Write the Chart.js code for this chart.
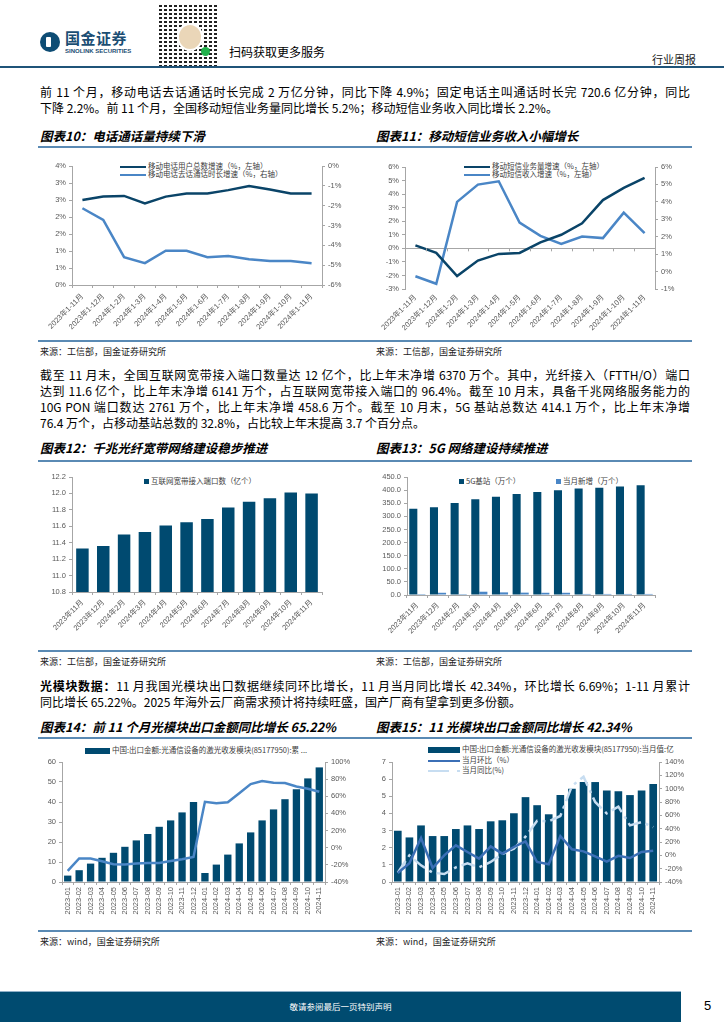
<!DOCTYPE html>
<html>
<head>
<meta charset="utf-8">
<script src="https://cdn.jsdelivr.net/npm/chart.js@4.4.1/dist/chart.umd.min.js"></script>
<style>
  body { margin: 0; background: #fff; }
  #page { position: relative; width: 724px; height: 1024px; overflow: hidden; font-family: "Noto Sans CJK SC", sans-serif; color: #000; }
  .para { position: absolute; left: 40px; width: 650px; font-size: 12px; line-height: 16px; }
  .para div { white-space: nowrap; height: 16px; }
  .para .j { text-align: justify; text-align-last: justify; }
  .ttl { position: absolute; font-size: 12.5px; line-height: 16px; font-weight: bold; font-style: italic; white-space: nowrap; }
  .rule { position: absolute; left: 38px; width: 654px; height: 2px; background: #5A8AB4; }
  .src { position: absolute; font-size: 9px; line-height: 12px; color: #222; white-space: nowrap; }
  .lg { position: absolute; font-size: 7.5px; line-height: 9px; color: #404040; white-space: nowrap; }
  .lg i { display: inline-block; vertical-align: middle; margin-right: 2px; }
</style>
</head>
<body>
<div id="page">
  <!-- header -->
  <div style="position:absolute;left:40px;top:32px;width:20px;height:20px;border-radius:50%;background:#0D4C74;"></div>
  <div style="position:absolute;left:46px;top:37px;width:5px;height:10px;background:#fff;border-radius:1px;"></div>
  <div style="position:absolute;left:65px;top:29px;font-size:15px;line-height:18px;font-weight:bold;color:#1B4E73;letter-spacing:0.5px;">国金证券</div>
  <div style="position:absolute;left:65px;top:47px;font-size:6px;line-height:8px;font-weight:bold;color:#1B4E73;font-family:'Liberation Sans',sans-serif;">SINOLINK SECURITIES</div>
  <div style="position:absolute;left:158px;top:4px;width:60px;height:62px;background-image:radial-gradient(#222 38%, transparent 42%);background-size:5px 4px;"></div>
  <div style="position:absolute;left:177px;top:23px;width:22px;height:24px;border-radius:50%;background:#EAD6B8;border:2px solid #fff;"></div>
  <div style="position:absolute;left:201px;top:47px;width:9px;height:9px;border-radius:50%;background:#22B14C;"></div>
  <div style="position:absolute;left:229px;top:44px;font-size:12px;line-height:16px;">扫码获取更多服务</div>
  <div style="position:absolute;left:652px;top:52px;font-size:11px;line-height:14px;color:#222;">行业周报</div>
  <div style="position:absolute;left:0;top:66px;width:724px;height:2px;background:#1F5479;"></div>

  <!-- paragraph 1 -->
  <div class="para" style="top:84px">
    <div class="j">前 11 个月，移动电话去话通话时长完成 2 万亿分钟，同比下降 4.9%；固定电话主叫通话时长完 720.6 亿分钟，同比</div>
    <div>下降 2.2%。前 11 个月，全国移动短信业务量同比增长 5.2%；移动短信业务收入同比增长 2.2%。</div>
  </div>

  <div class="ttl" style="left:40px;top:128px">图表10：电话通话量持续下滑</div>
  <div class="ttl" style="left:376px;top:128px">图表11：移动短信业务收入小幅增长</div>
  <div class="rule" style="top:146px"></div>

  <div class="lg" style="left:120px;top:161px"><i style="width:26px;height:2.5px;background:#0A4468"></i>移动电话用户总数增速（%，左轴）</div>
  <div class="lg" style="left:120px;top:169px"><i style="width:26px;height:2.5px;background:#4A86C6"></i>移动电话去话通话时长增速（%，右轴）</div>
  <div class="lg" style="left:464px;top:161px"><i style="width:26px;height:2.5px;background:#0A4468"></i>移动短信业务量增速（%，左轴）</div>
  <div class="lg" style="left:464px;top:169px"><i style="width:26px;height:2.5px;background:#4A86C6"></i>移动短信收入增速（%，左轴）</div>

  <div class="rule" style="top:340px"></div>
  <div class="src" style="left:40px;top:346px">来源：工信部，国金证券研究所</div>
  <div class="src" style="left:376px;top:346px">来源：工信部，国金证券研究所</div>

  <!-- paragraph 2 -->
  <div class="para" style="top:367px">
    <div class="j">截至 11 月末，全国互联网宽带接入端口数量达 12 亿个，比上年末净增 6370 万个。其中，光纤接入（FTTH/O）端口</div>
    <div class="j">达到 11.6 亿个，比上年末净增 6141 万个，占互联网宽带接入端口的 96.4%。截至 10 月末，具备千兆网络服务能力的</div>
    <div class="j">10G PON 端口数达 2761 万个，比上年末净增 458.6 万个。截至 10 月末，5G 基站总数达 414.1 万个，比上年末净增</div>
    <div>76.4 万个，占移动基站总数的 32.8%，占比较上年末提高 3.7 个百分点。</div>
  </div>

  <div class="ttl" style="left:40px;top:440px">图表12：千兆光纤宽带网络建设稳步推进</div>
  <div class="ttl" style="left:376px;top:440px">图表13：5G 网络建设持续推进</div>
  <div class="rule" style="top:460px"></div>

  <div class="lg" style="left:144px;top:476px"><i style="width:5px;height:5px;background:#004A70"></i>互联网宽带接入端口数（亿个）</div>
  <div class="lg" style="left:459px;top:476px"><i style="width:5px;height:5px;background:#004A70"></i>5G基站（万个）</div>
  <div class="lg" style="left:556px;top:476px"><i style="width:5px;height:5px;background:#4A86C6"></i>当月新增（万个）</div>

  <div class="rule" style="top:650px"></div>
  <div class="src" style="left:40px;top:656px">来源：工信部，国金证券研究所</div>
  <div class="src" style="left:376px;top:656px">来源：工信部，国金证券研究所</div>

  <!-- paragraph 3 -->
  <div class="para" style="top:678px">
    <div class="j"><b>光模块数据：</b>11 月我国光模块出口数据继续同环比增长，11 月当月同比增长 42.34%，环比增长 6.69%；1-11 月累计</div>
    <div>同比增长 65.22%。2025 年海外云厂商需求预计将持续旺盛，国产厂商有望拿到更多份额。</div>
  </div>

  <div class="ttl" style="left:40px;top:719px">图表14：前 11 个月光模块出口金额同比增长 65.22%</div>
  <div class="ttl" style="left:376px;top:719px">图表15：11 光模块出口金额同比增长 42.34%</div>
  <div class="rule" style="top:737px"></div>

  <div class="lg" style="left:85px;top:745px"><i style="width:25px;height:6px;background:#004A70"></i>中国:出口金额:光通信设备的激光收发模块(85177950):累 ...</div>
  <div class="lg" style="left:428px;top:744px"><i style="width:32px;height:6px;background:#004A70"></i>中国:出口金额:光通信设备的激光收发模块(85177950):当月值:亿</div>
  <div class="lg" style="left:428px;top:755px"><i style="width:32px;height:2.5px;background:#3B6FB6"></i>当月环比（%）</div>
  <div class="lg" style="left:428px;top:765px"><i style="width:21px;height:2.5px;background:#C7DDF1;margin-right:8px"></i><i style="width:3px;height:2.5px;background:#C7DDF1"></i>当月同比(%)</div>

  <div class="rule" style="top:930px"></div>
  <div class="src" style="left:40px;top:936px">来源：wind，国金证券研究所</div>
  <div class="src" style="left:376px;top:936px">来源：wind，国金证券研究所</div>

  <!-- footer -->
  <div style="position:absolute;left:0;top:991px;width:681px;height:30px;background:#004B70;border-top:1px solid #8FB0C8;"></div>
  <div style="position:absolute;left:0;top:1000px;width:681px;text-align:center;font-size:8.5px;line-height:12px;color:#fff;">敬请参阅最后一页特别声明</div>
  <div style="position:absolute;left:704px;top:998px;font-size:13px;line-height:16px;font-family:'Liberation Sans',sans-serif;">5</div>
</div>

<script>
// ---- data ----
const TEL_CATS = ['2023年1-11月', '2023年1-12月', '2024年1-2月', '2024年1-3月', '2024年1-4月', '2024年1-5月',
  '2024年1-6月', '2024年1-7月', '2024年1-8月', '2024年1-9月', '2024年1-10月', '2024年1-11月'];
const TEL_USERS = [2.5, 2.6, 2.62, 2.4, 2.6, 2.69, 2.69, 2.79, 2.91, 2.81, 2.69, 2.69];
const TEL_CALLS = [-2.13, -2.72, -4.6, -4.9, -4.27, -4.27, -4.6, -4.54, -4.7, -4.79, -4.79, -4.9];
const TEL_LEFT_TICKS = ['0%', '1%', '1%', '2%', '2%', '3%', '3%', '4%'];
const TEL_RIGHT_TICKS = ['-6%', '-5%', '-4%', '-3%', '-2%', '-1%', '0%'];

const SMS_VOLUME = [0.22, -0.34, -2.05, -0.9, -0.41, -0.34, 0.44, 1.0, 1.85, 3.56, 4.46, 5.2];
const SMS_REVENUE = [-0.27, -0.7, 4.0, 4.99, 5.18, 2.81, 2.05, 1.59, 2.01, 1.92, 3.38, 2.2];
const SMS_LEFT_TICKS = ['-3%', '-2%', '-1%', '0%', '1%', '2%', '3%', '4%', '5%', '6%'];
const SMS_RIGHT_TICKS = ['-1%', '0%', '1%', '2%', '3%', '4%', '5%', '6%'];

const MONTH_CATS = ['2023年11月', '2023年12月', '2024年2月', '2024年3月', '2024年4月', '2024年5月',
  '2024年6月', '2024年7月', '2024年8月', '2024年9月', '2024年10月', '2024年11月'];
const PORTS = [11.33, 11.36, 11.5, 11.53, 11.61, 11.65, 11.69, 11.83, 11.9, 11.94, 12.01, 12.0];
const PORT_TICKS = ['10.8', '11.0', '11.2', '11.4', '11.6', '11.8', '12.0', '12.2'];

const BS_TOTAL = [329, 335, 351, 365, 375, 385, 393, 399, 406, 409, 414.1, 419];
const BS_NEW = [3.5, 8.5, 3.5, 12.5, 10, 9, 8.5, 8.5, 4, 4, 4, 4];
const BS_TICKS = ['0.0', '50.0', '100.0', '150.0', '200.0', '250.0', '300.0', '350.0', '400.0', '450.0'];

const MOD_CATS = ['2023-01', '2023-02', '2023-03', '2023-04', '2023-05', '2023-06', '2023-07', '2023-08',
  '2023-09', '2023-10', '2023-11', '2023-12', '2024-01', '2024-02', '2024-03', '2024-04', '2024-05',
  '2024-06', '2024-07', '2024-08', '2024-09', '2024-10', '2024-11'];
const MOD_CUM = [3.2, 5.9, 9.2, 12.1, 14.6, 17.6, 20.8, 24.0, 27.6, 30.8, 34.8, 40.0,
  4.5, 8.7, 13.7, 19.3, 24.8, 30.8, 36.3, 41.4, 46.4, 51.8, 57.3];
const MOD_CUM_YOY = [-27, -12.6, -12.6, -15.8, -19.3, -19.7, -18.5, -17.7, -17.7, -15.4, -13.4, -10.7,
  53.5, 51.9, 53, 63.6, 74.2, 77.7, 75.8, 75.4, 71.5, 68.7, 65.2];
const CUM_LEFT_TICKS = ['0', '10', '20', '30', '40', '50', '60'];
const CUM_RIGHT_TICKS = ['-40%', '-20%', '0%', '20%', '40%', '60%', '80%', '100%'];

const MOD_MONTH = [2.99, 2.6, 3.3, 2.68, 2.68, 3.09, 3.3, 3.09, 3.54, 3.6, 4.01, 4.95,
  4.48, 3.95, 5.07, 5.44, 5.83, 5.83, 5.34, 5.3, 5.07, 5.34, 5.71];
const MOD_MOM = [-26.4, -12, 26, -19, 0, 15, 5, -5, 13.5, 2.5, 12.5, 21,
  -10, -13.5, 29, 9, 6, -1.5, -9.5, -0.8, -4, 5, 6.7];
const MOD_YOY = [-26, 0, -15, -26, -28, -18, -12, -18, -10, 2, 10, 28,
  52, 51, 59, 104, 118, 80, 63, 73, 45, 50, 42.3];
const MONTH_LEFT_TICKS = ['0', '1', '2', '3', '4', '5', '6', '7'];
const MONTH_RIGHT_TICKS = ['-40%', '-20%', '0%', '20%', '40%', '60%', '80%', '100%', '120%', '140%'];

// ---- styles ----
const GRAY = '#A6A6A6';
const NAVY = '#004A70';
const DARK_LINE = '#0A4468';
const LIGHT_LINE = '#4A86C6';

Chart.defaults.font.family = '"Liberation Sans", "Noto Sans CJK SC", sans-serif';
Chart.defaults.font.size = 7.5;
Chart.defaults.color = '#595959';
Chart.defaults.animation = false;
Chart.defaults.responsive = false;
Chart.defaults.plugins.legend.display = false;
Chart.defaults.plugins.tooltip.enabled = false;
Chart.defaults.elements.point.radius = 0;
Chart.defaults.elements.line.tension = 0;

function canvasAt(left, top, w, h) {
  const c = document.createElement('canvas');
  c.width = w;
  c.height = h;
  c.style.cssText = `position:absolute;left:${left}px;top:${top}px;width:${w}px;height:${h}px;`;
  document.getElementById('page').appendChild(c);
  return c;
}

function yAxis(position, min, max, step, labels, width, showZero) {
  return {
    position, min, max,
    afterFit: s => { s.width = width; },
    ticks: { stepSize: step, padding: 3, callback: (v, i) => labels[i] },
    grid: {
      drawOnChartArea: !!showZero, drawTicks: true, tickLength: 3, tickColor: GRAY,
      color: c => (showZero && c.tick && c.tick.value === 0) ? GRAY : 'rgba(0,0,0,0)'
    },
    border: { display: true, color: GRAY }
  };
}

function xAxis(rotation, height, border, pad) {
  return {
    offset: true,
    afterFit: s => { s.height = height; },
    ticks: { autoSkip: false, minRotation: rotation, maxRotation: rotation, padding: pad },
    grid: { offset: true, drawOnChartArea: false, drawTicks: border, tickLength: 3, color: GRAY },
    border: { display: border, color: GRAY }
  };
}

// tick marks along the zero line (chart 11)
const zeroTicks = {
  id: 'zeroTicks',
  afterDatasetsDraw(chart) {
    const x = chart.scales.x, y0 = chart.scales.y.getPixelForValue(0);
    const step = x.getPixelForValue(1) - x.getPixelForValue(0);
    const ctx = chart.ctx;
    ctx.save();
    ctx.strokeStyle = GRAY;
    ctx.lineWidth = 1;
    for (let i = 0; i <= x.ticks.length; i++) {
      const px = Math.round(x.getPixelForValue(0) - step / 2 + i * step) + 0.5;
      ctx.beginPath();
      ctx.moveTo(px, y0);
      ctx.lineTo(px, y0 + 3);
      ctx.stroke();
    }
    ctx.restore();
  }
};

// 图表10
new Chart(canvasAt(34, 158, 326, 177), {
  type: 'line',
  data: {
    labels: TEL_CATS,
    datasets: [
      { data: TEL_USERS, yAxisID: 'y', borderColor: DARK_LINE, borderWidth: 2.5 },
      { data: TEL_CALLS, yAxisID: 'y1', borderColor: LIGHT_LINE, borderWidth: 2.5 }
    ]
  },
  options: {
    layout: { padding: { top: 8 } },
    scales: {
      x: xAxis(45, 50, true, 4),
      y: yAxis('left', 0, 3.5, 0.5, TEL_LEFT_TICKS, 38),
      y1: yAxis('right', -6, 0, 1, TEL_RIGHT_TICKS, 38)
    }
  }
});

// 图表11
new Chart(canvasAt(367, 159, 326, 178), {
  type: 'line',
  data: {
    labels: TEL_CATS,
    datasets: [
      { data: SMS_VOLUME, yAxisID: 'y', borderColor: DARK_LINE, borderWidth: 2.5 },
      { data: SMS_REVENUE, yAxisID: 'y1', borderColor: LIGHT_LINE, borderWidth: 2.5 }
    ]
  },
  options: {
    layout: { padding: { top: 8 } },
    scales: {
      x: xAxis(45, 48, false, 4),
      y: yAxis('left', -3, 6, 1, SMS_LEFT_TICKS, 38, true),
      y1: yAxis('right', -1, 6, 1, SMS_RIGHT_TICKS, 38)
    }
  },
  plugins: [zeroTicks]
});

// 图表12
new Chart(canvasAt(36, 469, 298, 175), {
  type: 'bar',
  data: {
    labels: MONTH_CATS,
    datasets: [{ data: PORTS, backgroundColor: NAVY, barPercentage: 0.6, categoryPercentage: 1 }]
  },
  options: {
    layout: { padding: { top: 8, right: 12 } },
    scales: {
      x: xAxis(45, 52, true, 3),
      y: yAxis('left', 10.8, 12.2, 0.2, PORT_TICKS, 36)
    }
  }
});

// 图表13
new Chart(canvasAt(365, 469, 302, 176), {
  type: 'bar',
  data: {
    labels: MONTH_CATS,
    datasets: [
      { data: BS_TOTAL, backgroundColor: NAVY, barPercentage: 1, categoryPercentage: 0.78 },
      { data: BS_NEW, backgroundColor: LIGHT_LINE, barPercentage: 1, categoryPercentage: 0.78 }
    ]
  },
  options: {
    layout: { padding: { top: 8, right: 12 } },
    scales: {
      x: xAxis(45, 50, true, 3),
      y: yAxis('left', 0, 450, 50, BS_TICKS, 42)
    }
  }
});

// 图表14
new Chart(canvasAt(34, 754, 327, 166), {
  type: 'bar',
  data: {
    labels: MOD_CATS,
    datasets: [
      { type: 'line', data: MOD_CUM_YOY, yAxisID: 'y1', borderColor: LIGHT_LINE, borderWidth: 2.5, order: 0 },
      { data: MOD_CUM, yAxisID: 'y', backgroundColor: NAVY, barPercentage: 0.64, categoryPercentage: 1, order: 1 }
    ]
  },
  options: {
    layout: { padding: { top: 8 } },
    scales: {
      x: xAxis(90, 38, true, 2),
      y: yAxis('left', 0, 60, 10, CUM_LEFT_TICKS, 28),
      y1: yAxis('right', -40, 100, 20, CUM_RIGHT_TICKS, 36)
    }
  }
});

// 图表15
new Chart(canvasAt(364, 754, 331, 166), {
  type: 'bar',
  data: {
    labels: MOD_CATS,
    datasets: [
      { type: 'line', data: MOD_MOM, yAxisID: 'y1', borderColor: '#3B6FB6', borderWidth: 2.5, order: 0 },
      { type: 'line', data: MOD_YOY, yAxisID: 'y1', borderColor: '#C7DDF1', borderWidth: 2.5,
        borderDash: [14, 5, 3, 5], order: 1 },
      { data: MOD_MONTH, yAxisID: 'y', backgroundColor: NAVY, barPercentage: 0.66, categoryPercentage: 1, order: 2 }
    ]
  },
  options: {
    layout: { padding: { top: 8 } },
    scales: {
      x: xAxis(90, 38, true, 2),
      y: yAxis('left', 0, 7, 1, MONTH_LEFT_TICKS, 28),
      y1: yAxis('right', -40, 140, 20, MONTH_RIGHT_TICKS, 36)
    }
  }
});
</script>
</body>
</html>
